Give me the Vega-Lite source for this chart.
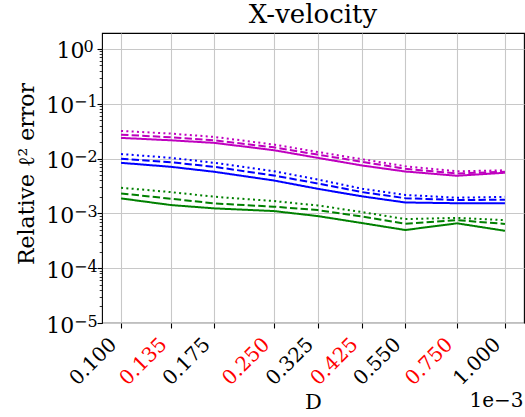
{
  "$schema": "https://vega.github.io/schema/vega-lite/v6.json",
  "width": 422,
  "height": 290,
  "autosize": {"type": "none"},
  "padding": {"left": 102, "top": 33, "right": 1, "bottom": 94},
  "background": "white",
  "config": {
    "view": {"stroke": "#000000", "strokeWidth": 1.1},
    "font": "DejaVu Serif"
  },
  "title": {
    "text": "X-velocity",
    "font": "DejaVu Serif",
    "fontSize": 26,
    "fontWeight": "normal",
    "color": "#000000",
    "frame": "group",
    "anchor": "middle",
    "baseline": "alphabetic",
    "offset": 7,
    "dy": 23
  },
  "data": {
    "values": [
      {"D": 0.1, "err": 0.0238, "c": "m", "s": "solid"},
      {"D": 0.135, "err": 0.0215, "c": "m", "s": "solid"},
      {"D": 0.175, "err": 0.0193, "c": "m", "s": "solid"},
      {"D": 0.25, "err": 0.0142, "c": "m", "s": "solid"},
      {"D": 0.325, "err": 0.0103, "c": "m", "s": "solid"},
      {"D": 0.425, "err": 0.00746, "c": "m", "s": "solid"},
      {"D": 0.55, "err": 0.0058, "c": "m", "s": "solid"},
      {"D": 0.75, "err": 0.00485, "c": "m", "s": "solid"},
      {"D": 1.0, "err": 0.0055, "c": "m", "s": "solid"},
      {"D": 0.1, "err": 0.0273, "c": "m", "s": "dashed"},
      {"D": 0.135, "err": 0.0244, "c": "m", "s": "dashed"},
      {"D": 0.175, "err": 0.0215, "c": "m", "s": "dashed"},
      {"D": 0.25, "err": 0.016, "c": "m", "s": "dashed"},
      {"D": 0.325, "err": 0.0118, "c": "m", "s": "dashed"},
      {"D": 0.425, "err": 0.0087, "c": "m", "s": "dashed"},
      {"D": 0.55, "err": 0.0065, "c": "m", "s": "dashed"},
      {"D": 0.75, "err": 0.00534, "c": "m", "s": "dashed"},
      {"D": 1.0, "err": 0.00575, "c": "m", "s": "dashed"},
      {"D": 0.1, "err": 0.0319, "c": "m", "s": "dotted"},
      {"D": 0.135, "err": 0.0285, "c": "m", "s": "dotted"},
      {"D": 0.175, "err": 0.0248, "c": "m", "s": "dotted"},
      {"D": 0.25, "err": 0.018, "c": "m", "s": "dotted"},
      {"D": 0.325, "err": 0.0132, "c": "m", "s": "dotted"},
      {"D": 0.425, "err": 0.0097, "c": "m", "s": "dotted"},
      {"D": 0.55, "err": 0.00724, "c": "m", "s": "dotted"},
      {"D": 0.75, "err": 0.00585, "c": "m", "s": "dotted"},
      {"D": 1.0, "err": 0.0061, "c": "m", "s": "dotted"},
      {"D": 0.1, "err": 0.00835, "c": "b", "s": "solid"},
      {"D": 0.135, "err": 0.00706, "c": "b", "s": "solid"},
      {"D": 0.175, "err": 0.00573, "c": "b", "s": "solid"},
      {"D": 0.25, "err": 0.00398, "c": "b", "s": "solid"},
      {"D": 0.325, "err": 0.00281, "c": "b", "s": "solid"},
      {"D": 0.425, "err": 0.00204, "c": "b", "s": "solid"},
      {"D": 0.55, "err": 0.00158, "c": "b", "s": "solid"},
      {"D": 0.75, "err": 0.00153, "c": "b", "s": "solid"},
      {"D": 1.0, "err": 0.00153, "c": "b", "s": "solid"},
      {"D": 0.1, "err": 0.00992, "c": "b", "s": "dashed"},
      {"D": 0.135, "err": 0.00857, "c": "b", "s": "dashed"},
      {"D": 0.175, "err": 0.00706, "c": "b", "s": "dashed"},
      {"D": 0.25, "err": 0.00491, "c": "b", "s": "dashed"},
      {"D": 0.325, "err": 0.00351, "c": "b", "s": "dashed"},
      {"D": 0.425, "err": 0.00244, "c": "b", "s": "dashed"},
      {"D": 0.55, "err": 0.00189, "c": "b", "s": "dashed"},
      {"D": 0.75, "err": 0.00175, "c": "b", "s": "dashed"},
      {"D": 1.0, "err": 0.00177, "c": "b", "s": "dashed"},
      {"D": 0.1, "err": 0.01207, "c": "b", "s": "dotted"},
      {"D": 0.135, "err": 0.0103, "c": "b", "s": "dotted"},
      {"D": 0.175, "err": 0.00835, "c": "b", "s": "dotted"},
      {"D": 0.25, "err": 0.00588, "c": "b", "s": "dotted"},
      {"D": 0.325, "err": 0.00415, "c": "b", "s": "dotted"},
      {"D": 0.425, "err": 0.00281, "c": "b", "s": "dotted"},
      {"D": 0.55, "err": 0.00217, "c": "b", "s": "dotted"},
      {"D": 0.75, "err": 0.00193, "c": "b", "s": "dotted"},
      {"D": 1.0, "err": 0.002, "c": "b", "s": "dotted"},
      {"D": 0.1, "err": 0.001874, "c": "g", "s": "solid"},
      {"D": 0.135, "err": 0.001416, "c": "g", "s": "solid"},
      {"D": 0.175, "err": 0.001233, "c": "g", "s": "solid"},
      {"D": 0.25, "err": 0.001101, "c": "g", "s": "solid"},
      {"D": 0.325, "err": 0.000893, "c": "g", "s": "solid"},
      {"D": 0.425, "err": 0.000664, "c": "g", "s": "solid"},
      {"D": 0.55, "err": 0.000497, "c": "g", "s": "solid"},
      {"D": 0.75, "err": 0.000658, "c": "g", "s": "solid"},
      {"D": 1.0, "err": 0.000481, "c": "g", "s": "solid"},
      {"D": 0.1, "err": 0.00231, "c": "g", "s": "dashed"},
      {"D": 0.135, "err": 0.00185, "c": "g", "s": "dashed"},
      {"D": 0.175, "err": 0.00152, "c": "g", "s": "dashed"},
      {"D": 0.25, "err": 0.001324, "c": "g", "s": "dashed"},
      {"D": 0.325, "err": 0.001148, "c": "g", "s": "dashed"},
      {"D": 0.425, "err": 0.000875, "c": "g", "s": "dashed"},
      {"D": 0.55, "err": 0.000644, "c": "g", "s": "dashed"},
      {"D": 0.75, "err": 0.000752, "c": "g", "s": "dashed"},
      {"D": 1.0, "err": 0.000642, "c": "g", "s": "dashed"},
      {"D": 0.1, "err": 0.00293, "c": "g", "s": "dotted"},
      {"D": 0.135, "err": 0.00244, "c": "g", "s": "dotted"},
      {"D": 0.175, "err": 0.00201, "c": "g", "s": "dotted"},
      {"D": 0.25, "err": 0.001675, "c": "g", "s": "dotted"},
      {"D": 0.325, "err": 0.001398, "c": "g", "s": "dotted"},
      {"D": 0.425, "err": 0.001052, "c": "g", "s": "dotted"},
      {"D": 0.55, "err": 0.000787, "c": "g", "s": "dotted"},
      {"D": 0.75, "err": 0.000828, "c": "g", "s": "dotted"},
      {"D": 1.0, "err": 0.000752, "c": "g", "s": "dotted"}
    ]
  },
  "layer": [
    {
      "mark": {"type": "line", "strokeWidth": 2, "clip": true},
      "encoding": {
        "x": {
          "field": "D",
          "type": "quantitative",
          "scale": {"type": "log", "domain": [0.0892, 1.121], "nice": false, "zero": false},
          "axis": {
            "orient": "bottom",
            "values": [0.1, 0.135, 0.175, 0.25, 0.325, 0.425, 0.55, 0.75, 1.0],
            "format": ".3f",
            "title": "D",
            "titleFont": "DejaVu Serif",
            "titleFontSize": 21,
            "titleFontWeight": "normal",
            "titleColor": "#000000",
            "titleBaseline": "alphabetic",
            "titleX": 211,
            "titleY": 85,
            "titleAlign": "center",
            "labelFont": "DejaVu Serif",
            "labelFontSize": 20,
            "labelAngle": -45,
            "labelAlign": "right",
            "labelBaseline": "top",
            "labelPadding": 6,
            "labelOffset": -15,
            "labelOverlap": false,
            "labelBound": false,
            "labelFlush": false,
            "labelColor": {
              "condition": {"test": "abs(datum.value-0.135)<1e-6 || abs(datum.value-0.25)<1e-6 || abs(datum.value-0.425)<1e-6 || abs(datum.value-0.75)<1e-6", "value": "#ff0000"},
              "value": "#000000"
            },
            "tickSize": 5,
            "tickWidth": 1.1,
            "tickColor": "#000000",
            "domain": false,
            "grid": true,
            "gridColor": "#c8c8c8",
            "gridWidth": 1.1
          }
        },
        "y": {
          "field": "err",
          "type": "quantitative",
          "scale": {"type": "log", "domain": [0.00001, 1.95], "nice": false, "zero": false},
          "axis": {
            "orient": "left",
            "values": [0.00001, 0.0001, 0.001, 0.01, 0.1, 1],
            "labelExpr": "'10'",
            "title": "Relative ℓ² error",
            "titleFont": "DejaVu Serif",
            "titleFontSize": 22,
            "titleFontWeight": "normal",
            "titleColor": "#000000",
            "titleAngle": -90,
            "titleBaseline": "alphabetic",
            "titleAlign": "center",
            "titleX": -69,
            "titleY": 140.5,
            "labelFont": "DejaVu Serif",
            "labelFontSize": 22,
            "labelColor": "#000000",
            "labelAlign": "left",
            "labelBaseline": "alphabetic",
            "labelOffset": 9,
            "labelPadding": {"condition": {"test": "datum.value > 0.5", "value": 41}, "value": 51.3},
            "labelOverlap": false,
            "labelBound": false,
            "labelFlush": false,
            "tickSize": 5,
            "tickWidth": 1.1,
            "tickColor": "#000000",
            "domain": false,
            "grid": true,
            "gridColor": "#c8c8c8",
            "gridWidth": 1.1
          }
        },
        "color": {
          "field": "c",
          "type": "nominal",
          "scale": {"domain": ["m", "b", "g"], "range": ["#bf00bf", "#0000ff", "#008000"]},
          "legend": null
        },
        "strokeDash": {
          "field": "s",
          "type": "nominal",
          "scale": {"domain": ["solid", "dashed", "dotted"], "range": [[1, 0], [7.4, 3.2], [2, 3.3]]},
          "legend": null
        }
      }
    },
    {
      "mark": {"type": "point", "opacity": 0},
      "encoding": {
        "x": {
          "datum": 1,
          "type": "quantitative",
          "scale": {"type": "log", "domain": [0.0892, 1.121], "nice": false, "zero": false},
          "axis": {
            "orient": "bottom",
            "labels": false,
            "ticks": false,
            "domain": false,
            "grid": false,
            "title": "1e−3",
            "titleFont": "DejaVu Serif",
            "titleFontSize": 20,
            "titleFontWeight": "normal",
            "titleColor": "#000000",
            "titleBaseline": "alphabetic",
            "titleAlign": "right",
            "titleX": 421,
            "titleY": 83
          }
        },
        "y": {
          "datum": 0.001,
          "type": "quantitative",
          "scale": {"type": "log", "domain": [0.00001, 1.95], "nice": false, "zero": false},
          "axis": {
            "orient": "left",
            "values": [0.00001, 0.0001, 0.001, 0.01, 0.1, 1, 0.00002, 0.00003, 0.00004, 0.00005, 0.00006, 0.00007, 0.00008, 0.00009, 0.0002, 0.0003, 0.0004, 0.0005, 0.0006, 0.0007, 0.0008, 0.0009, 0.002, 0.003, 0.004, 0.005, 0.006, 0.007, 0.008, 0.009, 0.02, 0.03, 0.04, 0.05, 0.06, 0.07, 0.08, 0.09, 0.2, 0.3, 0.4, 0.5, 0.6, 0.7, 0.8, 0.9],
            "labelExpr": "abs(log(datum.value)/LN10 - round(log(datum.value)/LN10)) < 1e-6 ? (round(log(datum.value)/LN10) == 0 ? '0' : '−' + (-round(log(datum.value)/LN10))) : ''",
            "labelFont": "DejaVu Serif",
            "labelFontSize": 16,
            "labelColor": "#000000",
            "labelAlign": "left",
            "labelBaseline": "alphabetic",
            "labelOffset": 3,
            "labelPadding": {"condition": {"test": "datum.value > 0.5", "value": 16.2}, "value": 25.7},
            "labelOverlap": false,
            "labelBound": false,
            "labelFlush": false,
            "domain": false,
            "grid": false,
            "title": null,
            "tickSize": 2.8,
            "tickWidth": 0.8,
            "tickColor": "#000000"
          }
        }
      }
    }
  ],
  "resolve": {"axis": {"x": "independent", "y": "independent"}}
}
